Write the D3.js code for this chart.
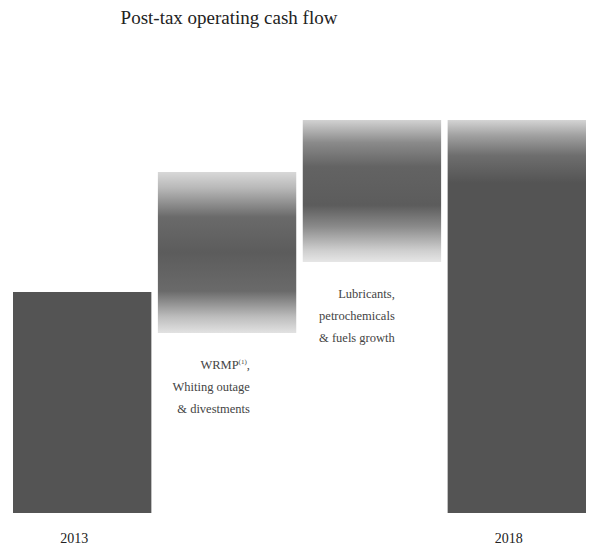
<!DOCTYPE html>
<html><head><meta charset="utf-8">
<script src="https://cdn.jsdelivr.net/npm/d3@7"></script>
<style>body{margin:0;background:#fff}svg{display:block}</style>
</head><body>
<script>
// Data
const categories = ["2013", "WRMP", "Lubricants", "2018"];
const barStart = [0, 1.80, 2.51, 0];
const barEnd = [2.21, 3.41, 3.93, 3.93];
const xLabels = ["2013", "", "", "2018"];
const noteLines = [[], ["WRMP", "Whiting outage", "& divestments"], ["Lubricants,", "petrochemicals", "& fuels growth"], []];
const title = "Post-tax operating cash flow";

const W = 591, H = 549;
const svg = d3.select("body").append("svg").attr("width", W).attr("height", H);
const x = d3.scaleBand().domain(categories).range([13, 586]).paddingInner(0.045).paddingOuter(0);
const y = d3.scaleLinear().domain([0, 3.93]).range([513, 120]);

const defs = svg.append("defs");
const dark = "#545454";
const gradStops = [
  [[0, dark], [1, dark]],
  [[0, "#d8d8d8"], [0.1, "#b8b8b8"], [0.28, "#6a6a6a"], [0.5, "#5c5c5c"], [0.74, "#6a6a6a"], [0.9, "#bdbdbd"], [1, "#e2e2e2"]],
  [[0, "#d2d2d2"], [0.16, "#8a8a8a"], [0.33, "#636363"], [0.6, "#5c5c5c"], [0.75, "#8a8a8a"], [0.92, "#cfcfcf"], [1, "#e6e6e6"]],
  [[0, "#d4d4d4"], [0.04, "#a0a0a0"], [0.09, "#6e6e6e"], [0.16, dark], [1, dark]]
];
categories.forEach((c, i) => {
  const g = defs.append("linearGradient").attr("id", "g" + i)
    .attr("x1", 0).attr("y1", 0).attr("x2", 0).attr("y2", 1);
  gradStops[i].forEach(s => g.append("stop").attr("offset", s[0]).attr("stop-color", s[1]));
});

svg.append("g").selectAll("rect").data(categories).join("rect")
  .attr("x", d => x(d))
  .attr("width", x.bandwidth())
  .attr("y", (d, i) => y(barEnd[i]))
  .attr("height", (d, i) => y(barStart[i]) - y(barEnd[i]))
  .attr("fill", (d, i) => `url(#g${i})`);

svg.append("text").attr("x", 229).attr("y", 24).attr("text-anchor", "middle")
  .attr("font-family", "Liberation Serif, serif").attr("font-size", 19).attr("fill", "#222")
  .text(title);

const serif = "Liberation Serif, serif";
const xAxis = svg.append("g");
categories.forEach((c, i) => {
  if (xLabels[i]) {
    xAxis.append("text").attr("x", x(c) + x.bandwidth() / 2 - 8).attr("y", 543)
      .attr("text-anchor", "middle").attr("font-family", serif).attr("font-size", 14).attr("fill", "#222")
      .text(xLabels[i]);
  }
  const lines = noteLines[i];
  if (lines.length) {
    const rightX = x(c) + x.bandwidth() * 0.665;
    const y0 = y(barStart[i]) + 36;
    lines.forEach((t, k) => {
      const tx = svg.append("text").attr("x", rightX).attr("y", y0 + k * 22)
        .attr("text-anchor", "end").attr("font-family", serif).attr("font-size", 12.5).attr("fill", "#444");
      if (t === "WRMP") {
        tx.append("tspan").text("WRMP");
        tx.append("tspan").attr("font-size", 7).attr("dy", -5).text("(1)");
        tx.append("tspan").attr("dy", 5).text(",");
      } else tx.text(t);
    });
  }
});
</script>
</body></html>
